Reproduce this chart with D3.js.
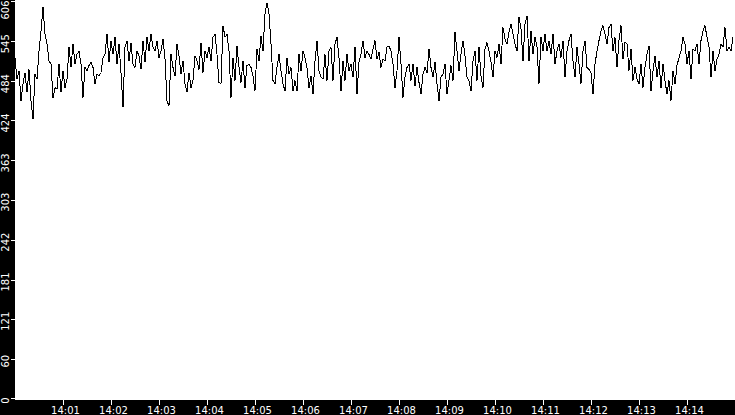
<!DOCTYPE html>
<html>
<head>
<meta charset="utf-8">
<script src="https://cdn.jsdelivr.net/npm/d3@7"></script>
<style>
  body { margin: 0; background: #000; }
  svg { display: block; }
</style>
</head>
<body>
<div id="chart"></div>
<script>
// sampled every 2.5 seconds starting 14:00:00
var startTime = "14:00:00";
var stepSeconds = 2.5;

var values = [
  520,487,500,454,480,497,467,502,454,426,495,487,530,561,597,556,541,515,510,459,
  474,472,510,467,500,474,487,536,505,541,510,525,530,510,459,505,500,508,513,505,
  480,495,492,497,520,525,556,513,546,525,551,510,541,497,444,536,546,515,543,510,
  505,530,523,502,546,513,551,530,556,536,530,546,520,530,548,518,454,446,525,505,
  492,541,523,495,515,480,467,497,474,485,523,515,502,543,497,530,520,536,515,551,
  556,525,482,480,569,551,556,530,459,520,485,538,505,482,515,474,508,510,505,492,
  469,533,515,553,530,587,604,587,541,485,480,505,525,500,480,469,520,495,505,469,
  485,469,525,500,530,520,505,474,492,464,515,546,500,490,487,525,485,530,536,485,
  541,551,520,469,515,485,525,500,510,490,536,464,513,525,546,520,530,525,518,533,
  546,518,528,505,518,515,536,538,530,510,474,500,551,510,459,490,505,510,485,510,
  477,505,482,464,495,505,497,533,505,490,513,480,454,490,495,510,464,485,508,485,
  559,530,500,525,546,523,490,485,469,515,530,485,536,492,474,533,543,530,513,490,
  530,520,541,510,566,548,541,559,571,556,541,530,582,564,515,571,584,515,561,525,
  551,536,480,551,530,556,530,546,525,556,510,530,541,520,546,490,530,546,556,515,
  490,536,510,480,530,546,505,502,497,464,510,530,546,561,569,556,541,566,571,530,
  551,505,546,569,518,543,541,500,533,485,505,487,480,510,474,505,525,538,469,500,
  523,490,515,474,510,485,464,485,454,500,480,508,520,530,551,541,510,530,487,533,
  530,541,510,546,561,569,551,536,490,530,500,518,525,541,536,566,530,536,530,551
];

var yTickLabels = [0, 60, 121, 181, 242, 303, 363, 424, 484, 545, 606];
var xTickLabels = ["14:01","14:02","14:03","14:04","14:05","14:06","14:07",
                   "14:08","14:09","14:10","14:11","14:12","14:13","14:14"];
var domainStart = "14:00";
var domainEnd = "14:15";

var w = 735, h = 415;
var left = 15, plotBottom = 400;

var parseHM = d3.timeParse("%H:%M");
var parseHMS = d3.timeParse("%H:%M:%S");
var t0 = parseHMS(startTime);

var data = values.map(function(v, i) {
    return { time: new Date(t0.getTime() + i * stepSeconds * 1000), value: v };
});

var svg = d3.select("#chart")
    .append("svg")
    .attr("width", w)
    .attr("height", h);

svg.append("rect")
    .attr("width", w).attr("height", h)
    .attr("fill", "#000");

svg.append("rect")
    .attr("x", left).attr("y", 0)
    .attr("width", w - left).attr("height", plotBottom)
    .attr("fill", "#fff");

var x = d3.scaleTime()
    .domain([parseHM(domainStart), parseHM(domainEnd)])
    .range([left, w]);

var y = d3.scaleLinear()
    .domain([0, 606.5])
    .range([398, 1]);

var line = d3.line()
    .x(function(d) { return x(d.time); })
    .y(function(d) { return y(d.value); });

svg.append("path")
    .datum(data)
    .attr("d", line)
    .attr("fill", "none")
    .attr("stroke", "#000")
    .attr("stroke-width", 1)
    .attr("shape-rendering", "crispEdges");

// y axis
var yAxis = svg.append("g")
    .attr("transform", "translate(" + left + ",0)")
    .call(d3.axisLeft(y).tickValues(yTickLabels).tickSize(4).tickPadding(0).tickFormat(d3.format("d")));

yAxis.select(".domain").remove();
yAxis.selectAll(".tick line")
    .attr("stroke", "#fff")
    .attr("shape-rendering", "crispEdges");
yAxis.selectAll(".tick text")
    .attr("fill", "#fff")
    .attr("x", null).attr("dy", null)
    .attr("text-anchor", "middle")
    .attr("font-family", "DejaVu Sans")
    .attr("font-size", "10px")
    .attr("transform", function(d) {
        // keep the top label inside the picture
        var half = this.getComputedTextLength() / 2;
        var shift = Math.max(2, half - y(d));
        return "translate(-6," + shift + ") rotate(-90)";
    });

// x axis
var xAxis = svg.append("g")
    .attr("transform", "translate(0," + plotBottom + ")")
    .call(d3.axisBottom(x).tickValues(xTickLabels.map(parseHM)).tickSize(5).tickFormat(d3.timeFormat("%H:%M")));

xAxis.select(".domain").remove();
xAxis.selectAll(".tick line")
    .attr("stroke", "#fff")
    .attr("shape-rendering", "crispEdges");
xAxis.selectAll(".tick text")
    .attr("fill", "#fff")
    .attr("y", 14).attr("dy", null)
    .attr("dx", 2)
    .attr("font-family", "DejaVu Sans")
    .attr("font-size", "10px");
</script>
</body>
</html>
